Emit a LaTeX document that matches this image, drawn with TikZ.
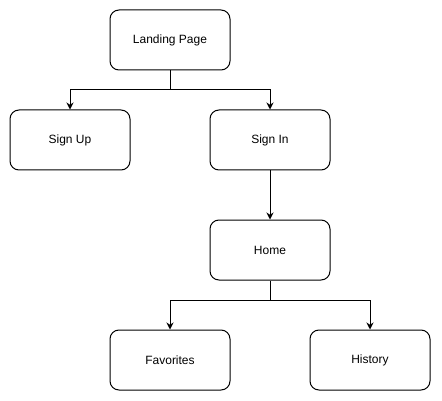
\documentclass[tikz,border=0pt]{standalone}
\usepackage{fontspec}
\setmainfont{Liberation Sans}
\usetikzlibrary{arrows.meta}
\begin{document}
\begin{tikzpicture}[x=1pt,y=-1pt,
  page/.style={draw=black, line width=1pt, rounded corners=9pt, fill=white,
    minimum width=120pt, minimum height=60pt, inner sep=0pt, font=\fontsize{12}{14}\selectfont},
  link/.style={draw=black, line width=1pt, -{Stealth[length=7pt,width=7pt]}},
  seg/.style={draw=black, line width=1pt}]
  \useasboundingbox (0,0) rectangle (442,401);
  \fill[white] (0,0) rectangle (442,401);

  \node[page] (landing) at (170,40) {Landing Page};
  \node[page] (signup) at (70,140) {Sign Up};
  \node[page] (signin) at (270,140) {Sign In};
  \node[page] (home) at (270,250) {Home};
  \node[page] (fav) at (170,360) {Favorites};
  \node[page] (hist) at (370,360) {History};

  \coordinate (j1) at (170,90);
  \coordinate (j2) at (270,300);

  \draw[seg] (landing.south) -- (j1);
  \draw[link] (j1) -| (signup.north);
  \draw[link] (j1) -| (signin.north);
  \draw[link] (signin.south) -- (home.north);
  \draw[seg] (home.south) -- (j2);
  \draw[link] (j2) -| (fav.north);
  \draw[link] (j2) -| (hist.north);
\end{tikzpicture}
\end{document}
